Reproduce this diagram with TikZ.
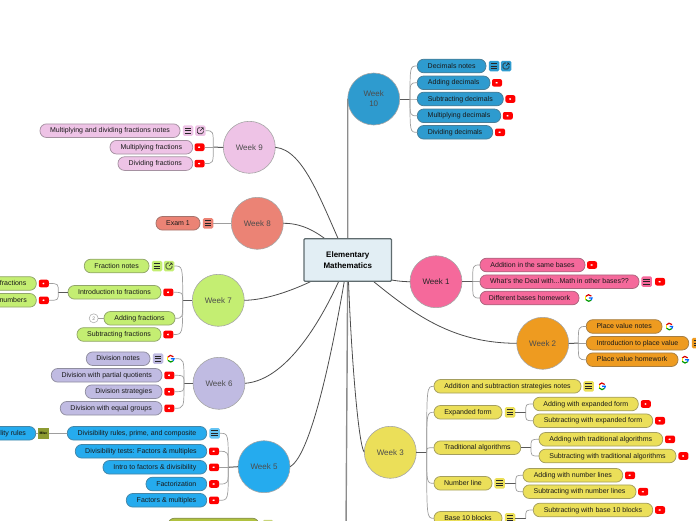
\documentclass[tikz,border=0pt]{standalone}
\usepackage{fontspec}
\setmainfont{Liberation Sans}
\definecolor{c1}{HTML}{F5699B}
\definecolor{c2}{HTML}{EE9B20}
\definecolor{c3}{HTML}{EBDF59}
\definecolor{c5}{HTML}{25ABEE}
\definecolor{c6}{HTML}{C0BBE2}
\definecolor{c7}{HTML}{C4EE72}
\definecolor{c8}{HTML}{EB8375}
\definecolor{c9}{HTML}{EEC3E6}
\definecolor{c10}{HTML}{2E9BCF}
\definecolor{c11}{HTML}{B0C23F}
\definecolor{rootfill}{HTML}{E2EEF4}
\definecolor{rootline}{HTML}{5F6B6E}
\definecolor{ytred}{HTML}{FF0000}
\tikzset{
  pillbox/.style={rectangle,rounded corners=6.5pt,minimum height=13.6pt,inner sep=0pt,outer sep=0pt,
    line width=.75pt,font=\fontsize{7}{8}\selectfont,text=black!90,text height=5pt,text depth=1pt},
  wk/.style={fill=#1,draw=#1!60!black!80},
  wkcircle/.style={circle,minimum size=52pt,inner sep=0pt,outer sep=0pt,line width=.6pt,draw=black!35,fill=#1,
    font=\fontsize{8}{10}\selectfont,text=black!70,align=center},
  rootbox/.style={rectangle,rounded corners=1pt,minimum width=87.5pt,minimum height=42.5pt,inner sep=0pt,
    line width=1.3pt,draw=rootline,fill=rootfill,font=\fontsize{8}{10.5}\selectfont\bfseries,align=center},
  iconbg/.style={rectangle,rounded corners=1.5pt,minimum width=10.5pt,minimum height=10.5pt,inner sep=0pt,outer sep=0pt,fill=#1},
  menuicon/.style={iconbg=#1,path picture={\begin{scope}[shift={(path picture bounding box.center)},x=1pt,y=1pt]
      \draw[black!85,line width=.8pt] (-3.3,2.5)--(3.3,2.5) (-3.3,0)--(3.3,0) (-3.3,-2.5)--(3.3,-2.5);
    \end{scope}}},
  exticon/.style={iconbg=#1,path picture={\begin{scope}[shift={(path picture bounding box.center)},x=1pt,y=1pt]
      \draw[black!85,line width=.6pt] (0,3)--(-3,3)--(-3,-3)--(3,-3)--(3,0) (0,0)--(3.2,3.2) (1,3.2)--(3.2,3.2)--(3.2,1);
    \end{scope}}},
  yticon/.style={rectangle,rounded corners=2pt,minimum width=10pt,minimum height=7.6pt,inner sep=0pt,outer sep=0pt,fill=ytred,
    path picture={\begin{scope}[shift={(path picture bounding box.center)},x=1pt,y=1pt]
      \fill[white] (-1.3,1.4)--(1.7,0)--(-1.3,-1.4)--cycle;
    \end{scope}}},
  gicon/.style={circle,minimum size=9.5pt,inner sep=0pt,outer sep=0pt,
    path picture={\begin{scope}[shift={(path picture bounding box.center)},x=1pt,y=1pt,line width=1.2pt]
      \draw[red!85!black] (35:3.3) arc[start angle=35,end angle=150,radius=3.3];
      \draw[yellow!85!orange] (150:3.3) arc[start angle=150,end angle=210,radius=3.3];
      \draw[green!60!black] (210:3.3) arc[start angle=210,end angle=320,radius=3.3];
      \draw[blue!60!cyan] (320:3.3) arc[start angle=320,end angle=360,radius=3.3] -- (0.2,0);
    \end{scope}}},
  miscicon/.style={rectangle,minimum width=11pt,minimum height=11pt,inner sep=0pt,outer sep=0pt,fill=#1,
    font=\fontsize{3.5}{4}\selectfont\bfseries},
  numbadge/.style={circle,minimum size=9pt,inner sep=0pt,outer sep=0pt,draw=black!30,line width=.6pt,fill=white,
    font=\fontsize{5}{6}\selectfont,text=black!50},
  rootlink/.style={draw=black!70,line width=.8pt},
  heavylink/.style={draw=black!45,line width=1.4pt},
  trunk/.style={draw=black!65,line width=1pt},
  branch/.style={draw=black!38,line width=.7pt}
}
\newcommand{\pill}[6]{%
  \pgfmathsetmacro{\pc}{(#3+#4)/2}\pgfmathsetmacro{\pw}{#4-#3}%
  \node[pillbox,wk=#1,minimum width=\pw pt] (#2) at (\pc,#5) {#6};}
\newcommand{\trk}[2]{\draw[trunk] (#1) -- (#2);}
\newcommand{\brs}[2]{\foreach \cc in {#2} {\draw[branch] (#1) .. controls (#1 |- \cc) .. (\cc);}}
\begin{document}
\begin{tikzpicture}[x=1pt,y=-1pt]
\useasboundingbox (0,0) rectangle (696,520);
% circles
\node[wkcircle=c10] (w10) at (373.7,99) {Week\\10};
\node[wkcircle=c9] (w9) at (249.3,147.3) {Week 9};
\node[wkcircle=c8] (w8) at (257.3,223.3) {Week 8};
\node[wkcircle=c7] (w7) at (218.3,300.3) {Week 7};
\node[wkcircle=c6] (w6) at (219,383.3) {Week 6};
\node[wkcircle=c5] (w5) at (264,466.7) {Week 5};
\node[wkcircle=c1,text=black!85] (w1) at (436,281.7) {Week 1};
\node[wkcircle=c2] (w2) at (542.7,343.3) {Week 2};
\node[wkcircle=c3] (w3) at (390.3,452.3) {Week 3};
\coordinate (offbottom) at (346,530);
\node[rootbox,opacity=0] (root) at (347.8,260) {};
% root connectors
\draw[heavylink] (w10.west) -- (root.center);
\draw[heavylink] (offbottom) -- (root.center);
\draw[rootlink] (w9.east) .. controls (305,150) and (322,205) .. (root.center);
\draw[rootlink] (w8.east) .. controls (305,223) and (325,235) .. (root.center);
\draw[rootlink] (w7.east) .. controls (275,300) and (320,280) .. (root.center);
\draw[rootlink] (w6.east) .. controls (290,380) and (328,310) .. (root.center);
\draw[rootlink] (w5.east) .. controls (312,455) and (335,340) .. (root.center);
\draw[rootlink] (w3.west) .. controls (358,445) and (350,340) .. (root.center);
\draw[rootlink] (w1.west) .. controls (395,281.7) and (370,278) .. (root.center);
\draw[rootlink] (w2.west) .. controls (444,343) and (404,307) .. (root.center);
\node[rootbox] (rootface) at (root.center) {Elementary\\Mathematics};
% week 10
\pill{c10}{a1}{417.3}{486}{66}{Decimals notes}
\node[menuicon=c10] (a1m) at (494,66) {};
\node[exticon=c10] (a1e) at (506,66) {};
\pill{c10}{a2}{417.3}{490}{82.8}{Adding decimals}
\node[yticon] (a2y) at (497,82.8) {};
\pill{c10}{a3}{417.3}{503.3}{99}{Subtracting decimals}
\node[yticon] (a3y) at (510.4,99) {};
\pill{c10}{a4}{417.3}{500.7}{115.8}{Multiplying decimals}
\node[yticon] (a4y) at (507.8,115.8) {};
\pill{c10}{a5}{417.3}{492.7}{132.3}{Dividing decimals}
\node[yticon] (a5y) at (500,132.3) {};
\coordinate (j10) at (410,99);
\trk{w10.east}{j10}
\brs{j10}{a1.west,a2.west,a3.west,a4.west,a5.west}
% week 9
\pill{c9}{b1}{40}{180}{130.7}{Multiplying and dividing fractions notes}
\node[menuicon=c9] (b1m) at (188,130.7) {};
\node[exticon=c9] (b1e) at (200.3,130.7) {};
\pill{c9}{b2}{110}{192.7}{147.2}{Multiplying fractions}
\node[yticon] (b2y) at (199.5,147.2) {};
\pill{c9}{b3}{118}{192.7}{163.6}{Dividing fractions}
\node[yticon] (b3y) at (199.5,163.6) {};
\coordinate (j9) at (213.3,147.2);
\trk{w9.west}{j9}
\brs{j9}{b1e.east,b2y.east,b3y.east}
% week 8
\pill{c8}{c1n}{156}{200}{223.3}{Exam 1}
\node[menuicon=c8] (c1m) at (208,223.3) {};
\draw[branch,line width=1pt] (w8.west) -- (c1m.east);
% week 7
\pill{c7}{d1}{84.3}{149}{266}{Fraction notes}
\node[menuicon=c7] (d1m) at (157,266) {};
\node[exticon=c7] (d1e) at (169,266) {};
\pill{c7}{d2}{68}{161}{292.3}{Introduction to fractions}
\node[yticon] (d2y) at (168.3,292.3) {};
\pill{c7}{d3}{104}{175}{318.3}{Adding fractions}
\node[numbadge] (d3b) at (93.7,318.3) {2};
\draw[branch] (d3.west) -- (d3b.east);
\pill{c7}{d4}{77}{161}{334.5}{Subtracting fractions}
\node[yticon] (d4y) at (168.3,334.5) {};
\pill{c7}{d5}{-10}{36.3}{283.5}{fractions}
\node[yticon] (d5y) at (43.8,283.5) {};
\pill{c7}{d6}{-10}{36.3}{300.3}{numbers}
\node[yticon] (d6y) at (43.8,300.3) {};
\coordinate (j7) at (182.7,300.3);
\coordinate (j7b) at (58.3,292.3);
\trk{w7.west}{j7}
\brs{j7}{d1e.east,d2y.east,d3.east,d4y.east}
\trk{d2.west}{j7b}
\brs{j7b}{d5y.east,d6y.east}
% week 6
\pill{c6}{e1}{86.3}{150}{358.7}{Division notes}
\node[menuicon=c6] (e1m) at (158,358.7) {};
\node[gicon] (e1g) at (170.7,358.7) {};
\pill{c6}{e2}{51.3}{162}{375.3}{Division with partial quotients}
\node[yticon] (e2y) at (169.3,375.3) {};
\pill{c6}{e3}{85.3}{162}{391.7}{Division strategies}
\node[yticon] (e3y) at (169.3,391.7) {};
\pill{c6}{e4}{60.3}{162}{408.3}{Division with equal groups}
\node[yticon] (e4y) at (169.3,408.3) {};
\coordinate (j6) at (184,383.3);
\trk{w6.west}{j6}
\brs{j6}{e1g.east,e2y.east,e3y.east,e4y.east}
% week 5
\pill{c5}{f1}{67.3}{206.7}{433.3}{Divisibility rules, prime, and composite}
\node[menuicon=c5!70!white] (f1m) at (214.7,433.3) {};
\pill{c5}{f2}{75.3}{206.7}{451.3}{Divisibility tests: Factors \& multiples}
\node[yticon] (f2y) at (214,451.3) {};
\pill{c5}{f3}{103}{206.7}{467.3}{Intro to factors \& divisibility}
\node[yticon] (f3y) at (214,467.3) {};
\pill{c5}{f4}{146}{206.7}{484}{Factorization}
\node[yticon] (f4y) at (214,484) {};
\pill{c5}{f5}{126.3}{206.7}{500.3}{Factors \& multiples}
\node[yticon] (f5y) at (214,500.3) {};
\pill{c5}{f6}{-11}{35.7}{433.3}{ility rules}
\node[miscicon=c11!80!black] (f6m) at (43.5,433.3) {Misc};
\coordinate (j5) at (228.3,467.3);
\trk{w5.west}{j5}
\brs{j5}{f1m.east,f2y.east,f3y.east,f4y.east,f5y.east}
\draw[branch,line width=.8pt] (f1.west) -- (f6m.east);
\draw[branch] (f6m.west) -- (f6.east);
% bottom olive
\pill{c11}{g1}{168}{259}{525}{}
\node[iconbg=c11!70!white] (g1m) at (268,525) {};
% week 1
\pill{c1}{h1}{480}{585}{265}{Addition in the same bases}
\node[yticon] (h1y) at (592,265) {};
\pill{c1}{h2}{480}{639}{281.7}{What's the Deal with...Math in other bases??}
\node[menuicon=c1] (h2m) at (646.7,281.7) {};
\node[yticon] (h2y) at (660,281.7) {};
\pill{c1}{h3}{480}{579}{298}{Different bases homework}
\node[gicon] (h3g) at (588.7,298) {};
\coordinate (j1) at (472.7,281.7);
\trk{w1.east}{j1}
\brs{j1}{h1.west,h2.west,h3.west}
% week 2
\pill{c2}{i1}{586.3}{662}{326.5}{Place value notes}
\node[gicon] (i1g) at (669.3,326.5) {};
\pill{c2}{i2}{586.3}{688.7}{343.2}{Introduction to place value}
\node[menuicon=c2] (i2m) at (697,343.2) {};
\pill{c2}{i3}{586.3}{678}{359.7}{Place value homework}
\node[gicon] (i3g) at (685,359.7) {};
\coordinate (j2) at (578.3,343.2);
\trk{w2.east}{j2}
\brs{j2}{i1.west,i2.west,i3.west}
% week 3
\pill{c3}{k1}{434}{581}{386.3}{Addition and subtraction strategies notes}
\node[menuicon=c3] (k1m) at (588.7,386.3) {};
\node[gicon] (k1g) at (602,386.3) {};
\pill{c3}{k2}{434}{502}{412.3}{Expanded form}
\node[menuicon=c3] (k2m) at (510,412.3) {};
\pill{c3}{k3}{434}{520.7}{447.7}{Traditional algorithms}
\pill{c3}{k4}{434}{492}{483.3}{Number line}
\node[menuicon=c3] (k4m) at (499.7,483.3) {};
\pill{c3}{k5}{434}{502}{518.3}{Base 10 blocks}
\node[menuicon=c3] (k5m) at (510,518.3) {};
\coordinate (j3) at (426.7,452.3);
\trk{w3.east}{j3}
\brs{j3}{k1.west,k2.west,k3.west,k4.west,k5.west}
\pill{c3}{l1}{533.3}{638.3}{404}{Adding with expanded form}
\node[yticon] (l1y) at (645.8,404) {};
\pill{c3}{l2}{533.3}{652.7}{420.7}{Subtracting with expanded form}
\node[yticon] (l2y) at (660,420.7) {};
\coordinate (jk2) at (525.7,412.3);
\trk{k2m.east}{jk2}
\brs{jk2}{l1.west,l2.west}
\pill{c3}{m1}{539}{662.7}{439.3}{Adding with traditional algorithms}
\node[yticon] (m1y) at (670,439.3) {};
\pill{c3}{m2}{539}{676}{456}{Subtracting with traditional algorithms}
\node[yticon] (m2y) at (683.4,456) {};
\coordinate (jk3) at (531,447.7);
\trk{k3.east}{jk3}
\brs{jk3}{m1.west,m2.west}
\pill{c3}{n1}{523}{622.7}{475.3}{Adding with number lines}
\node[yticon] (n1y) at (630,475.3) {};
\pill{c3}{n2}{523}{636}{491.7}{Subtracting with number lines}
\node[yticon] (n2y) at (643.2,491.7) {};
\coordinate (jk4) at (515.7,483.3);
\trk{k4m.east}{jk4}
\brs{jk4}{n1.west,n2.west}
\pill{c3}{o1}{533.3}{652.7}{510}{Subtracting with base 10 blocks}
\node[yticon] (o1y) at (660,510) {};
\coordinate (jk5) at (525.7,518.3);
\trk{k5m.east}{jk5}
\brs{jk5}{o1.west}
\end{tikzpicture}
\end{document}
